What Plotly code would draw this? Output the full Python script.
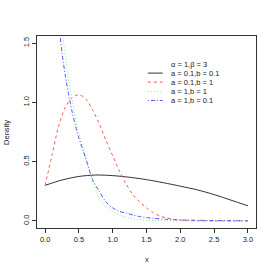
import plotly.graph_objects as go

# Data
x_black = [0.0, 0.25, 0.5, 0.75, 1.0, 1.25, 1.5, 1.75, 2.0, 2.25, 2.5, 2.75, 3.0]
y_black = [0.30, 0.345, 0.375, 0.387, 0.382, 0.368, 0.348, 0.322, 0.293, 0.262, 0.222, 0.175, 0.127]

x_red = [0.0, 0.1, 0.2, 0.3, 0.4, 0.5, 0.6, 0.7, 0.8, 0.9, 1.0, 1.1, 1.2, 1.3, 1.4, 1.5, 1.6, 1.7, 1.8, 1.9, 2.0, 2.25, 2.5, 2.75, 3.0]
y_red = [0.30, 0.55, 0.80, 0.96, 1.04, 1.065, 1.03, 0.94, 0.82, 0.68, 0.55, 0.42, 0.31, 0.22, 0.16, 0.11, 0.07, 0.04, 0.025, 0.013, 0.007, 0.002, 0.0, 0.0, 0.0]

x_green = [0.15, 0.2, 0.26, 0.3, 0.35, 0.4, 0.48, 0.5, 0.6, 0.65, 0.7, 0.8, 0.9, 1.0, 1.1, 1.2, 1.3, 1.44, 1.6, 2.0, 2.5, 3.0]
y_green = [2.2, 1.85, 1.56, 1.38, 1.18, 1.02, 0.78, 0.74, 0.53, 0.44, 0.35, 0.19, 0.12, 0.08, 0.05, 0.03, 0.017, 0.008, 0.003, 0.0, 0.0, 0.0]

x_blue = [0.1, 0.15, 0.2, 0.25, 0.3, 0.35, 0.4, 0.45, 0.5, 0.6, 0.7, 0.8, 0.9, 1.0, 1.1, 1.2, 1.3, 1.4, 1.6, 1.8, 2.0, 2.5, 3.0]
y_blue = [2.4, 2.0, 1.68, 1.42, 1.22, 1.06, 0.92, 0.80, 0.70, 0.53, 0.35, 0.25, 0.16, 0.11, 0.08, 0.065, 0.05, 0.036, 0.022, 0.013, 0.008, 0.003, 0.001]

names = ["a = 0.1,b = 0.1", "a = 0.1,b = 1", "a = 1,b = 1", "a = 1,b = 0.1"]
colors = ["#333333", "#FF5555", "#88EE88", "#5555FF"]
dashes = ["solid", "3px,3px", "1px,2px", "1px,2px,4px,2px"]
legend_title = "α = 1,β = 3"

x_ticks = [0.0, 0.5, 1.0, 1.5, 2.0, 2.5, 3.0]
x_ticklabels = ["0.0", "0.5", "1.0", "1.5", "2.0", "2.5", "3.0"]
y_ticks = [0.0, 0.5, 1.0, 1.5]
y_ticklabels = ["0.0", "0.5", "1.0", "1.5"]

series = [(x_black, y_black), (x_red, y_red), (x_green, y_green), (x_blue, y_blue)]

fig = go.Figure()
for (xs, ys), nm, c, d in zip(series, names, colors, dashes):
    fig.add_trace(go.Scatter(x=xs, y=ys, mode="lines", name=nm,
                             line=dict(color=c, width=1, dash=d, shape="spline", smoothing=0.8),
                             showlegend=False))

font = dict(family="Liberation Sans, Arial, sans-serif", size=7.5, color="#222222")

# custom legend (no box), in data coordinates
leg_x0, leg_x1, leg_tx = 1.52, 1.74, 1.83
leg_rows = [1.247, 1.171, 1.092, 1.016]
fig.add_annotation(x=leg_tx, y=1.318, xref="x", yref="y", text=legend_title, showarrow=False,
                   xanchor="left", yanchor="middle", font=font)
for nm, c, d, yy in zip(names, colors, dashes, leg_rows):
    fig.add_trace(go.Scatter(x=[leg_x0, leg_x1], y=[yy, yy], mode="lines",
                             line=dict(color=c, width=1, dash=d), showlegend=False, hoverinfo="skip"))
    fig.add_annotation(x=leg_tx, y=yy, xref="x", yref="y", text=nm, showarrow=False,
                       xanchor="left", yanchor="middle", font=font)

fig.update_layout(
    width=275, height=274,
    margin=dict(l=37, r=19, t=36, b=46, autoexpand=False),
    paper_bgcolor="white", plot_bgcolor="white",
    font=font,
    showlegend=False,
)
fig.update_xaxes(range=[-0.12, 3.12], tickvals=x_ticks, ticktext=x_ticklabels,
                 showgrid=False, zeroline=False, showline=True, mirror=True, automargin=False,
                 linecolor="#333333", linewidth=1, ticks="outside", ticklen=4,
                 tickcolor="#333333", tickfont=font)
fig.update_yaxes(range=[-0.06, 1.56], tickvals=y_ticks, ticktext=y_ticklabels,
                 showgrid=False, zeroline=False, showline=True, mirror=True, automargin=False,
                 linecolor="#333333", linewidth=1, ticks="outside", ticklen=4,
                 tickcolor="#333333", tickangle=-90, tickfont=font)

fig.add_annotation(x=0.5, y=-0.165, xref="paper", yref="paper", text="x", showarrow=False,
                   xanchor="center", yanchor="middle", font=font)
fig.add_annotation(x=-0.142, y=0.5, xref="paper", yref="paper", text="Density", showarrow=False,
                   textangle=-90, xanchor="center", yanchor="middle", font=font)

post = ("document.body.style.margin='0';document.body.style.padding='0';"
        "document.body.style.overflow='hidden';")
fig.write_html("out.html", post_script=post, config={"displayModeBar": False})
